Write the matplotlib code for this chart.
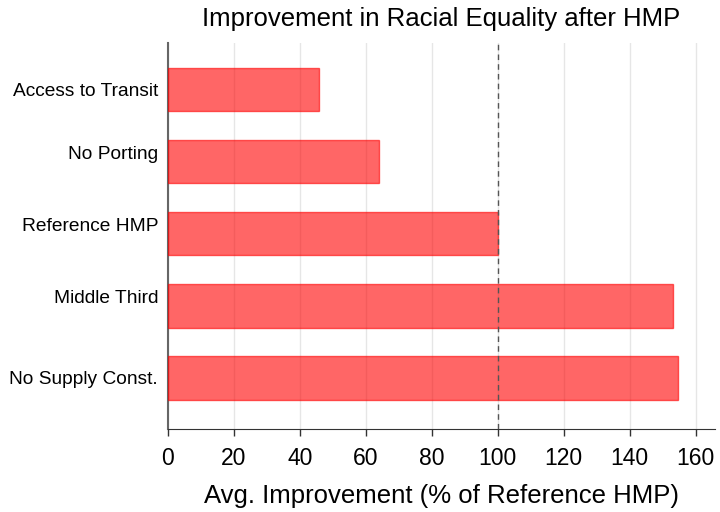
import numpy as np
import matplotlib.pyplot as plt
from matplotlib.transforms import ScaledTranslation

plt.rcParams['font.family'] = ['Liberation Sans', 'DejaVu Sans']

# data
scenarios = ["Access to Transit", "No Porting", "Reference HMP", "Middle Third", "No Supply Const."]
improvement = [45.8, 63.9, 100.0, 153.0, 154.5]
xticks = [0, 20, 40, 60, 80, 100, 120, 140, 160]

fig = plt.figure(figsize=(7.2, 5.12), dpi=100)
ax = fig.add_axes([0.233, 0.162, 0.76, 0.754])

y = np.arange(len(scenarios))
ax.barh(y, improvement, height=0.6, color="red", alpha=0.6, edgecolor="red", linewidth=1, zorder=3)
ax.axvline(100, color="#555555", linestyle=(0, (4, 3)), linewidth=1, zorder=4)

ax.set_xticks(xticks)
ax.set_xlim(0, 165.8)
ax.set_ylim(4.71, -0.65)
ax.set_yticks(y)
ax.set_yticklabels(scenarios, fontsize=13.8)
ax.tick_params(axis="y", length=0, pad=7)
ax.tick_params(axis="x", labelsize=16.5, length=5, width=1, color="#333333", pad=8)
ax.grid(axis="x", color="#e6e6e6", linewidth=1, zorder=0)

# the middle labels sit a little above their bars in the original
shifts = [0, 9, 9, 9, 0]
for lab, dy in zip(ax.get_yticklabels(), shifts):
    lab.set_transform(lab.get_transform() + ScaledTranslation(0, dy / 100, fig.dpi_scale_trans))

for s in ["top", "right"]:
    ax.spines[s].set_visible(False)
ax.spines["left"].set_color("#666666")
ax.spines["left"].set_linewidth(1.5)
ax.spines["bottom"].set_color("#333333")

ax.set_xlabel("Avg. Improvement (% of Reference HMP)", fontsize=18.5, labelpad=10)
ax.set_title("Improvement in Racial Equality after HMP", fontsize=18.5, pad=12)

fig.savefig("out.png", dpi=100)
